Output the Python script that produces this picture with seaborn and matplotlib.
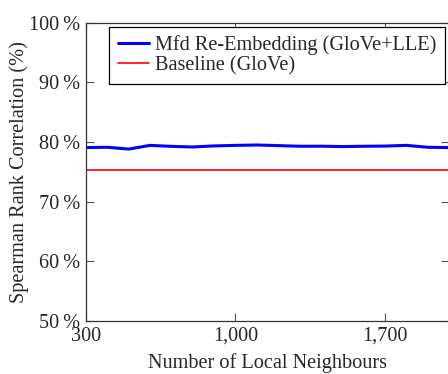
import matplotlib
matplotlib.use("Agg")
import matplotlib.pyplot as plt
import seaborn as sns
import pandas as pd
from matplotlib.ticker import FixedLocator, FuncFormatter

neighbours = [300, 400, 500, 600, 700, 800, 900, 1000, 1100, 1200, 1300, 1400, 1500, 1600, 1700, 1800, 1900, 2000]
lle_corr = [79.05, 79.1, 78.8, 79.42, 79.25, 79.15, 79.33, 79.42, 79.48, 79.38, 79.27, 79.28, 79.22, 79.27, 79.3, 79.42, 79.1, 79.05]
baseline_corr = [75.25] * len(neighbours)

label_lle = "Mfd Re-Embedding (GloVe+LLE)"
label_base = "Baseline (GloVe)"
xticks = [300, 1000, 1700]
yticks = [50, 60, 70, 80, 90, 100]

sns.set_theme(style="ticks")
plt.rcParams["font.family"] = ["Liberation Serif", "DejaVu Serif"]
plt.rcParams["mathtext.fontset"] = "stix"

df = pd.DataFrame({
    "n": neighbours * 2,
    "corr": lle_corr + baseline_corr,
    "series": [label_lle] * len(neighbours) + [label_base] * len(neighbours),
})

fs = 14.6
fig = plt.figure(figsize=(4.48, 3.74), dpi=100)
ax = fig.add_axes([86 / 448, 1 - 321 / 374, (449 - 86) / 448, (321 - 22.5) / 374])

sns.lineplot(data=df[df.series == label_lle], x="n", y="corr", ax=ax, color="blue",
             linewidth=2.2, label=label_lle)
sns.lineplot(data=df[df.series == label_base], x="n", y="corr", ax=ax, color="red",
             linewidth=1.2, label=label_base)

ax.set_xlim(300, 2000)
ax.set_ylim(50, 100)
ax.xaxis.set_major_locator(FixedLocator(xticks))
ax.yaxis.set_major_locator(FixedLocator(yticks))
ax.xaxis.set_major_formatter(FuncFormatter(lambda v, p: f"{int(v):,}"))
ax.yaxis.set_major_formatter(FuncFormatter(lambda v, p: f"{int(v)}\u2009%"))
ax.tick_params(direction="in", length=6, width=0.8, color="#555555", top=True, right=True,
               labelsize=fs, pad=4)
for s in ax.spines.values():
    s.set_color("#333333")
    s.set_linewidth(0.9)

ax.set_xlabel("Number of Local Neighbours", fontsize=fs, labelpad=5.5)
ax.set_ylabel("Spearman Rank Correlation (%)", fontsize=fs, labelpad=0)

leg = ax.legend(loc="upper right", bbox_to_anchor=(1.0, 1.0), borderaxespad=0.2,
                fontsize=fs, frameon=True, fancybox=False, handlelength=1.55,
                handletextpad=0.3, labelspacing=0.05, borderpad=0.42)
leg.get_frame().set_edgecolor("black")
leg.get_frame().set_linewidth(0.9)
leg.get_frame().set_alpha(1)

fig.savefig("out.png", dpi=100)
